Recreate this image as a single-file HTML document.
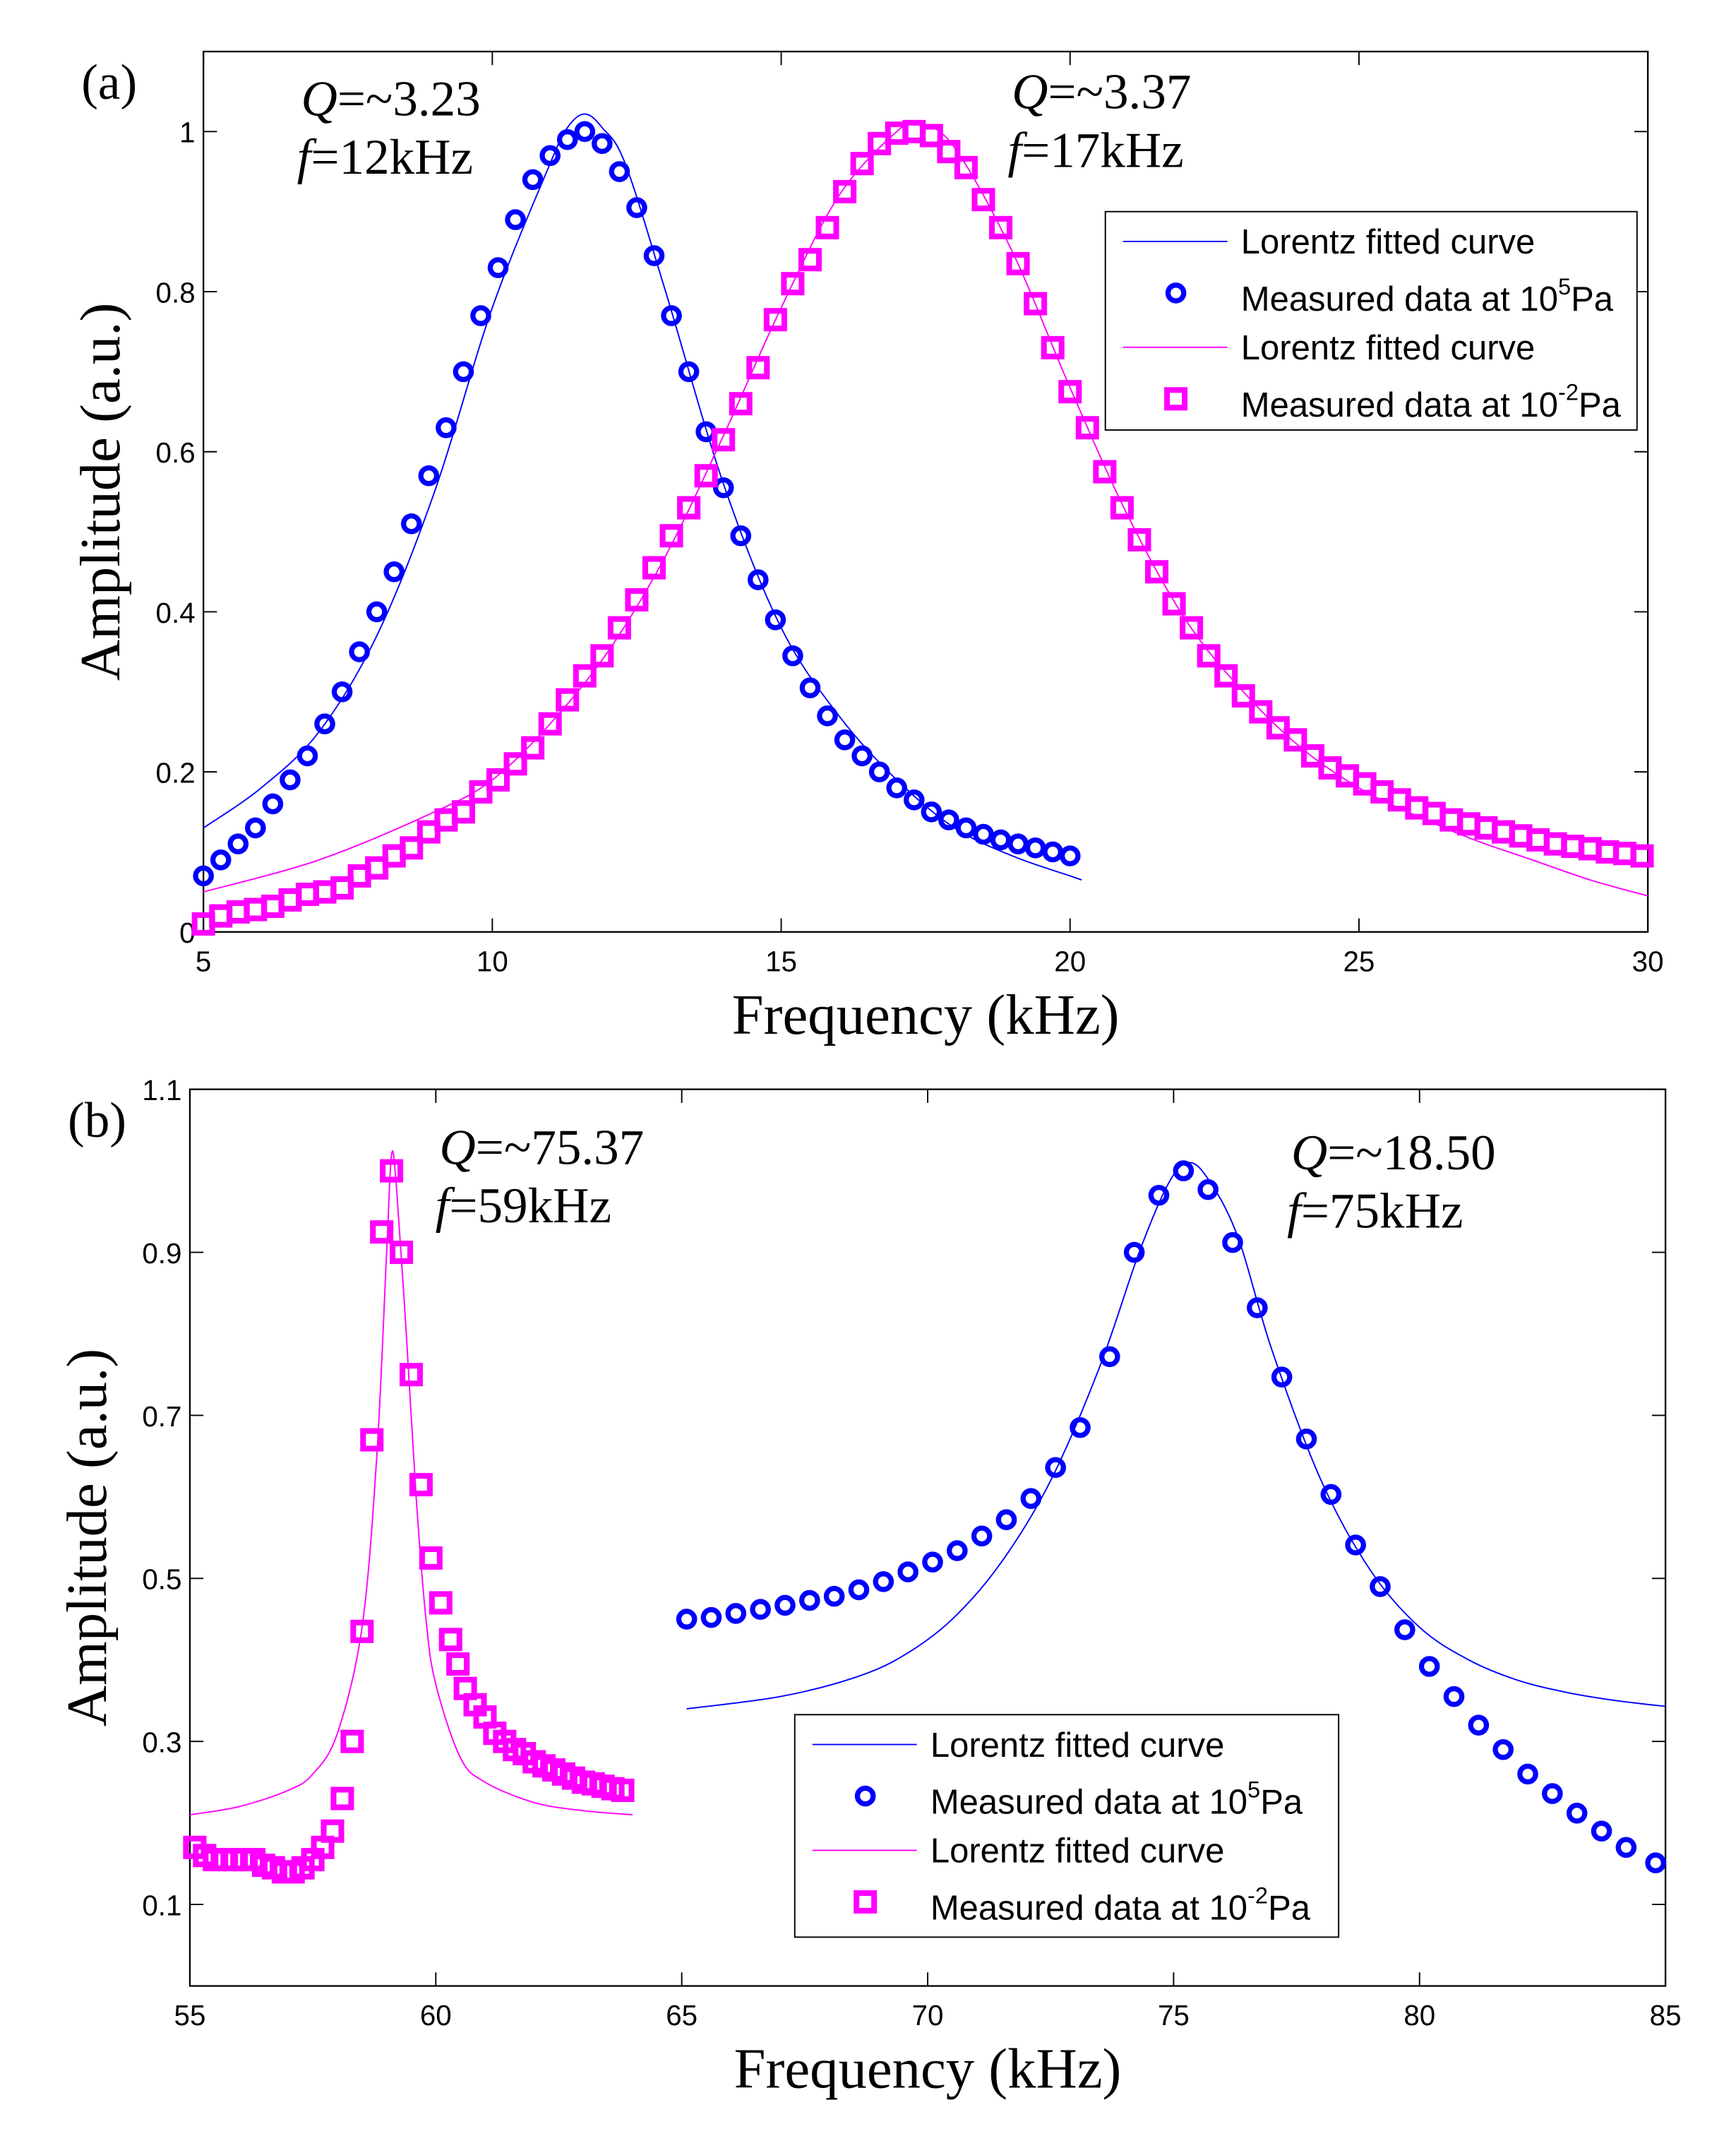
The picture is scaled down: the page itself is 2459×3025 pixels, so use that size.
<!DOCTYPE html>
<html><head><meta charset="utf-8"><style>
html,body{margin:0;padding:0;background:#fff;}
svg{display:block;}
.tick{font-family:"Liberation Sans",sans-serif;font-size:21px;fill:#000;}
.lab{font-family:"Liberation Serif",serif;font-size:42px;fill:#000;}
.ann{font-family:"Liberation Serif",serif;font-size:37px;fill:#000;}
.leg{font-family:"Liberation Sans",sans-serif;font-size:25.5px;fill:#000;}
</style></head><body>
<svg id="chart" width="2459" height="3025" viewBox="0 0 1280 1574.6" preserveAspectRatio="none" xmlns="http://www.w3.org/2000/svg"></svg>
<script>
// ---------- Panel (a) data ----------
const aBlueX = [5.0,5.3,5.6,5.9,6.2,6.5,6.8,7.1,7.4,7.7,8.0,8.3,8.6,8.9,9.2,9.5,9.8,10.1,10.4,10.7,11.0,11.3,11.6,11.9,12.2,12.5,12.8,13.1,13.4,13.7,14.0,14.3,14.6,14.9,15.2,15.5,15.8,16.1,16.4,16.7,17.0,17.3,17.6,17.9,18.2,18.5,18.8,19.1,19.4,19.7,20.0];
const aBlueY = [0.07,0.09,0.11,0.13,0.16,0.19,0.22,0.26,0.30,0.35,0.40,0.45,0.51,0.57,0.63,0.70,0.77,0.83,0.89,0.94,0.97,0.99,1.0,0.985,0.95,0.905,0.845,0.77,0.70,0.625,0.555,0.495,0.44,0.39,0.345,0.305,0.27,0.24,0.22,0.20,0.18,0.165,0.15,0.14,0.13,0.122,0.115,0.11,0.105,0.10,0.095];
const aBlueFitX = [5,6,7,8,9,10,11,11.3,11.6,11.9,12.3,13,14,15,16,17,18,19,20,20.2];
const aBlueFitY = [0.13,0.18,0.25,0.37,0.55,0.78,0.96,1.005,1.022,1.005,0.96,0.80,0.56,0.38,0.27,0.19,0.13,0.095,0.07,0.065];
const aMagX = [5.0,5.3,5.6,5.9,6.2,6.5,6.8,7.1,7.4,7.7,8.0,8.3,8.6,8.9,9.2,9.5,9.8,10.1,10.4,10.7,11.0,11.3,11.6,11.9,12.2,12.5,12.8,13.1,13.4,13.7,14.0,14.3,14.6,14.9,15.2,15.5,15.8,16.1,16.4,16.7,17.0,17.3,17.6,17.9,18.2,18.5,18.8,19.1,19.4,19.7,20.0,20.3,20.6,20.9,21.2,21.5,21.8,22.1,22.4,22.7,23.0,23.3,23.6,23.9,24.2,24.5,24.8,25.1,25.4,25.7,26.0,26.3,26.6,26.9,27.2,27.5,27.8,28.1,28.4,28.7,29.0,29.3,29.6,29.9];
const aMagY = [0.01,0.02,0.025,0.028,0.032,0.04,0.047,0.05,0.055,0.07,0.08,0.095,0.105,0.125,0.14,0.15,0.175,0.19,0.21,0.23,0.26,0.29,0.32,0.345,0.38,0.415,0.455,0.495,0.53,0.57,0.615,0.66,0.705,0.765,0.81,0.84,0.88,0.925,0.96,0.985,0.998,1.0,0.995,0.975,0.955,0.915,0.88,0.835,0.785,0.73,0.675,0.63,0.575,0.53,0.49,0.45,0.41,0.38,0.345,0.32,0.295,0.275,0.255,0.24,0.22,0.205,0.195,0.185,0.175,0.165,0.155,0.148,0.14,0.135,0.13,0.125,0.12,0.115,0.11,0.107,0.104,0.1,0.098,0.095];
const aMagFitX = [5,7,9,10,11,12,13,14,15,16,17,17.4,18,19,20,21,22,23,24,25,26,27,28,29,30];
const aMagFitY = [0.05,0.09,0.15,0.19,0.26,0.35,0.47,0.62,0.78,0.92,1.0,1.01,0.98,0.85,0.68,0.52,0.39,0.30,0.23,0.18,0.145,0.115,0.09,0.065,0.045];
const aXTicks = [5,10,15,20,25,30];
const aYTicks = [0,0.2,0.4,0.6,0.8,1];
const aYLabels = ["0","0.2","0.4","0.6","0.8","1"];
// ---------- Panel (b) data ----------
const bMagX = [55.1,55.3,55.5,55.7,55.9,56.1,56.3,56.5,56.7,56.9,57.1,57.3,57.5,57.7,57.9,58.1,58.3,58.5,58.7,58.9,59.1,59.3,59.5,59.7,59.9,60.1,60.3,60.45,60.6,60.8,61.0,61.2,61.4,61.6,61.8,62.0,62.2,62.4,62.6,62.8,63.0,63.2,63.4,63.6,63.8];
const bMagY = [0.17,0.16,0.155,0.155,0.155,0.155,0.155,0.148,0.145,0.14,0.14,0.145,0.155,0.17,0.19,0.23,0.30,0.435,0.67,0.925,1.0,0.9,0.75,0.615,0.525,0.47,0.425,0.395,0.365,0.345,0.33,0.31,0.30,0.29,0.285,0.275,0.27,0.265,0.26,0.255,0.25,0.248,0.245,0.242,0.24];
const bMagFitX = [55,56,57,57.5,58,58.5,58.8,59.0,59.1,59.2,59.4,59.6,59.8,60,60.5,61,62,63,64];
const bMagFitY = [0.21,0.22,0.24,0.26,0.31,0.44,0.65,0.9,1.02,0.98,0.8,0.6,0.45,0.37,0.28,0.25,0.225,0.215,0.21];
const bBlueX = [65.1,65.6,66.1,66.6,67.1,67.6,68.1,68.6,69.1,69.6,70.1,70.6,71.1,71.6,72.1,72.6,73.1,73.7,74.2,74.7,75.2,75.7,76.2,76.7,77.2,77.7,78.2,78.7,79.2,79.7,80.2,80.7,81.2,81.7,82.2,82.7,83.2,83.7,84.2,84.8];
const bBlueY = [0.45,0.452,0.457,0.462,0.467,0.473,0.478,0.486,0.496,0.508,0.52,0.534,0.552,0.572,0.598,0.636,0.685,0.772,0.90,0.97,1.0,0.977,0.912,0.832,0.747,0.671,0.603,0.541,0.49,0.437,0.392,0.355,0.32,0.29,0.26,0.236,0.212,0.19,0.17,0.151];
const bBlueFitX = [65.1,67,68.5,69.5,70.5,71.5,72.5,73.5,74.3,74.9,75.3,75.7,76.3,77,78,79,80,81,82,83,84,85];
const bBlueFitY = [0.34,0.355,0.378,0.405,0.45,0.52,0.62,0.76,0.90,0.985,1.01,0.99,0.92,0.78,0.62,0.51,0.44,0.40,0.375,0.36,0.35,0.343];
const bXTicks = [55,60,65,70,75,80,85];
const bYTicks = [0.1,0.3,0.5,0.7,0.9,1.1];
const bYLabels = ["0.1","0.3","0.5","0.7","0.9","1.1"];

const NS="http://www.w3.org/2000/svg";
const svg=document.getElementById('chart');
function mk(tag,attrs,parent){const e=document.createElementNS(NS,tag);for(const k in attrs)e.setAttribute(k,attrs[k]);(parent||svg).appendChild(e);return e;}
function txt(s,attrs,parent){const e=mk('text',attrs,parent);e.textContent=s;return e;}

function smoothPath(pts){
  let d='M'+pts[0][0]+','+pts[0][1];
  for(let i=0;i<pts.length-1;i++){
    const p0=pts[Math.max(0,i-1)],p1=pts[i],p2=pts[i+1],p3=pts[Math.min(pts.length-1,i+2)];
    const c1=[p1[0]+(p2[0]-p0[0])/6,p1[1]+(p2[1]-p0[1])/6];
    const c2=[p2[0]-(p3[0]-p1[0])/6,p2[1]-(p3[1]-p1[1])/6];
    d+=' C'+c1[0]+','+c1[1]+' '+c2[0]+','+c2[1]+' '+p2[0]+','+p2[1];
  }
  return d;
}

function panel(cfg){
  const g=mk('g',{});
  
  
  const L=cfg.L,R=cfg.R,T=cfg.T,B=cfg.B;
  const sx=v=>L+(v-cfg.x0)/(cfg.x1-cfg.x0)*(R-L);
  const sy=v=>B-(v-cfg.y0)/(cfg.y1-cfg.y0)*(B-T);
  const fr=mk('rect',{x:L,y:T,width:R-L,height:B-T,fill:'none',stroke:'#000','stroke-width':1.2},g);
  
  
  cfg.xt.forEach(v=>{
    const x=sx(v);
    mk('line',{x1:x,y1:B,x2:x,y2:B-10,stroke:'#000','stroke-width':1},g);
    mk('line',{x1:x,y1:T,x2:x,y2:T+10,stroke:'#000','stroke-width':1},g);
    const t=txt(String(v),{x:x,y:B+29,'text-anchor':'middle',class:'tick'},g);
    
    
  });
  cfg.yt.forEach((v,i)=>{
    const y=sy(v);
    mk('line',{x1:L,y1:y,x2:L+10,y2:y,stroke:'#000','stroke-width':1},g);
    mk('line',{x1:R,y1:y,x2:R-10,y2:y,stroke:'#000','stroke-width':1},g);
    const t=txt(cfg.yl[i],{x:L-6,y:y+8,'text-anchor':'end',class:'tick'},g);
    
    
  });
  cfg.fits.forEach(f=>{
    const p=mk('path',{d:smoothPath(f.x.map((v,i)=>[sx(v),sy(f.y[i])])),fill:'none',stroke:f.c,'stroke-width':1},g);
    
    
  });
  cfg.pts.forEach(s=>{
    const sg=mk('g',{},g);
    
    
    s.x.forEach((v,i)=>{
      let m;
      if(s.shape==='o') m=mk('circle',{cx:sx(v),cy:sy(s.y[i]),r:5.8,fill:'none',stroke:'#0000ff','stroke-width':3.8},sg);
      else m=mk('rect',{x:sx(v)-6.5,y:sy(s.y[i])-6.5,width:13,height:13,fill:'none',stroke:'#ff00ff','stroke-width':4.2},sg);
      
      
    });
  });
  const xl=txt('Frequency (kHz)',{x:(L+R)/2,y:B+75,'text-anchor':'middle',class:'lab'},g);
  
  
  const yc=(T+B)/2;
  const yl=txt('Amplitude (a.u.)',{x:cfg.ylx,y:yc,'text-anchor':'middle',class:'lab',transform:'rotate(-90 '+cfg.ylx+' '+yc+')'},g);
  
  
  const pl=txt(cfg.tag,{x:cfg.tagx,y:cfg.tagy,class:'ann'},g);
  
  
  cfg.anns.forEach(a=>{
    const t1=mk('text',{x:a.x,y:a.y,class:'ann'},g);
    
    
    t1.innerHTML='<tspan font-style="italic">Q</tspan>=~'+a.q;
    const t2=mk('text',{x:a.x-3,y:a.y+43,class:'ann'},g);
    
    
    t2.innerHTML='<tspan font-style="italic">f</tspan>='+a.f;
  });
  const lg=mk('g',{},g);
  
  
  const X=cfg.lx,Y=cfg.ly,W=cfg.lw,H=cfg.lh;
  mk('rect',{x:X,y:Y,width:W,height:H,fill:'#fff',stroke:'#000','stroke-width':1},lg);
  const rows=[{t:'Lorentz fitted curve',k:'l',c:'#0000ff'},{t:'Measured data at 10',sup:'5',k:'o'},{t:'Lorentz fitted curve',k:'l',c:'#ff00ff'},{t:'Measured data at 10',sup:'-2',k:'s'}];
  const dy=[22,60,100,138];
  rows.forEach((r,i)=>{
    const y=Y+dy[i];
    const sym=r.k==='l'?mk('line',{x1:X+13,y1:y,x2:X+90,y2:y,stroke:r.c,'stroke-width':1},lg)
      : r.k==='o'?mk('circle',{cx:X+52,cy:y,r:5.8,fill:'none',stroke:'#0000ff','stroke-width':3.8},lg)
      : mk('rect',{x:X+45.5,y:y-6.5,width:13,height:13,fill:'none',stroke:'#ff00ff','stroke-width':4.2},lg);
    
    
    const ty = r.k==='l'? y+9 : y+13;
    const t=mk('text',{x:X+100,y:ty,class:'leg'},lg);
    
    
    t.innerHTML=r.t+(r.sup?'<tspan dy="-12" font-size="17">'+r.sup+'</tspan><tspan dy="12">Pa</tspan>':'');
  });
}

panel({name:'panel-a',L:150,R:1215,T:38,B:687,x0:5,x1:30,y0:0,y1:1.1,xt:aXTicks,yt:aYTicks,yl:aYLabels,
  fits:[{x:aBlueFitX,y:aBlueFitY,c:'#0000ff',name:'blue-fit-curve'},{x:aMagFitX,y:aMagFitY,c:'#ff00ff',name:'magenta-fit-curve'}],
  pts:[{x:aBlueX,y:aBlueY,shape:'o',name:'blue-measured-series'},{x:aMagX,y:aMagY,shape:'s',name:'magenta-measured-series'}],
  ylx:88,tag:'(a)',tagx:60,tagy:73,
  anns:[{x:222,y:85,q:'3.23',f:'12kHz'},{x:746,y:80,q:'3.37',f:'17kHz'}],
  lx:815,ly:156,lw:392,lh:161});
panel({name:'panel-b',L:140,R:1228,T:803,B:1464,x0:55,x1:85,y0:0,y1:1.1,xt:bXTicks,yt:bYTicks,yl:bYLabels,
  fits:[{x:bMagFitX,y:bMagFitY,c:'#ff00ff',name:'magenta-fit-curve'},{x:bBlueFitX,y:bBlueFitY,c:'#0000ff',name:'blue-fit-curve'}],
  pts:[{x:bMagX,y:bMagY,shape:'s',name:'magenta-measured-series'},{x:bBlueX,y:bBlueY,shape:'o',name:'blue-measured-series'}],
  ylx:78,tag:'(b)',tagx:50,tagy:838,
  anns:[{x:324,y:858,q:'75.37',f:'59kHz'},{x:952,y:862,q:'18.50',f:'75kHz'}],
  lx:586,ly:1264,lw:401,lh:164});
</script>
</body></html>
